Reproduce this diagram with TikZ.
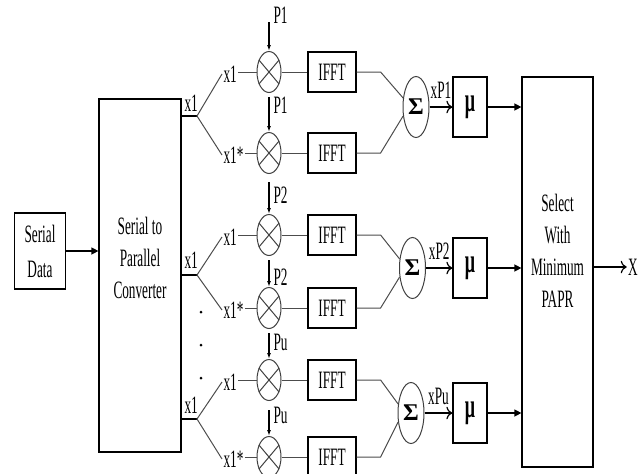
\documentclass[tikz,border=0pt]{standalone}
\usepackage{fontspec}
\setmainfont[FakeStretch=0.53]{Liberation Serif}
\newfontfamily\symfont{Liberation Serif}
\usetikzlibrary{positioning, arrows.meta, calc, shapes.geometric}

\begin{document}
\begin{tikzpicture}[x=1pt, y=-1pt, >=Latex, font=\fontsize{25}{32}\selectfont, line width=1pt]
	\tikzset{
		blk/.style={draw, line width=1.2pt, inner sep=0pt, align=center},
		mult/.style={draw=black!75, ellipse, minimum width=24pt, minimum height=41pt, inner sep=0pt},
		summ/.style={draw=black!75, ellipse, minimum width=26pt, minimum height=61pt, inner sep=0pt},
		lbl/.style={inner sep=1pt},
		wire/.style={draw=black!70},
		tip/.style={-{Triangle[length=7pt, width=7pt]}, line width=1.3pt},
	}
	\useasboundingbox (0,0) rectangle (643,474);
	\clip (0,0) rectangle (643,474);

	\node[blk, minimum width=51pt, minimum height=76pt] (sd) at (40,251) {Serial\\[3pt]Data};
	\node[blk, minimum width=82pt, minimum height=353pt] (s2p) at (140,275.5) {};
	\node[align=center, lbl] (s2ptxt) at (140,258) {Serial to\\Parallel\\Converter};
	\node[blk, minimum width=71pt, minimum height=390pt] (sel) at (557.5,272) {};
	\node[align=center, lbl] (seltxt) at (557.5,251) {Select\\With\\Minimum\\PAPR};
	\node[lbl] (X) at (633,267) {X};

	\draw[tip] (sd.east) -- (sd.east -| s2p.west);
	\draw[-{To[length=6pt]}, line width=1.2pt] (X.west -| sel.east) -- (X.west);

	% multipliers and IFFT blocks
	\foreach \m/\y/\inp/\p/\py/\ay in {a1/72/x1/P1/15/22, b1/153/x1*/P1/105/97,
			a2/235/x1/P2/195/182, b2/308/x1*/P2/277/260,
			a3/380/x1/Pu/342/333, b3/457/x1*/Pu/415/410}{
		\node[mult] (mx\m) at (269,\y) {};
		\draw[black!75] (mx\m.50) -- (mx\m.230) (mx\m.130) -- (mx\m.310);
		\node[blk, minimum width=48pt, minimum height=40pt] (if\m) at (332,\y) {IFFT};
		\node[lbl, anchor=west] (in\m) at (222,\y+2) {\inp};
		\node[lbl, anchor=west] (p\m) at (272,\py) {\p};
		\coordinate (pt\m) at (269,\ay);
		\draw[-{Latex[length=6pt, width=4pt]}, line width=1.2pt] (pt\m) -- (mx\m.north);
		\draw[wire] (in\m.east |- mx\m.west) -- (mx\m.west);
		\draw[wire] (mx\m.east) -- (if\m.west);
	}

	% branches out of the converter
	\foreach \g/\yo/\ly in {1/116/103, 2/275/260, 3/419/405}{
		\coordinate (br\g) at (197,\yo);
		\node[lbl, anchor=west] (xo\g) at (183,\ly) {x1};
		\draw[line width=1.2pt] (s2p.east |- br\g) -- (br\g);
		\draw[wire] (ina\g.west) -- (br\g) -- (inb\g.west);
	}

	% adders and scaling
	\foreach \g/\xs/\ys/\lab in {1/416/107/xP1, 2/412.5/268/xP2, 3/411/413/xPu}{
		\node[summ] (s\g) at (\xs,\ys) {\symfont\fontsize{24}{24}\selectfont\bfseries Σ};
		\node[blk, minimum width=34pt, minimum height=60pt] (mu\g) at (470,\ys) {\fontsize{34}{34}\selectfont\bfseries μ};
		\draw[wire] (ifa\g.east) -- ++(24,0) -- (s\g.145);
		\draw[wire] (ifb\g.east) -- ++(24,0) -- (s\g.215);
		\draw[-{To[length=6pt]}, line width=1.2pt] (s\g.east) -- node[lbl, above=7pt] {\lab} (mu\g.west);
		\draw[tip] (mu\g.east) -- (mu\g.east -| sel.west);
	}

	\fill (201,312) circle (1.5) (201,345) circle (1.5) (201,378) circle (1.5);
\end{tikzpicture}
\end{document}
